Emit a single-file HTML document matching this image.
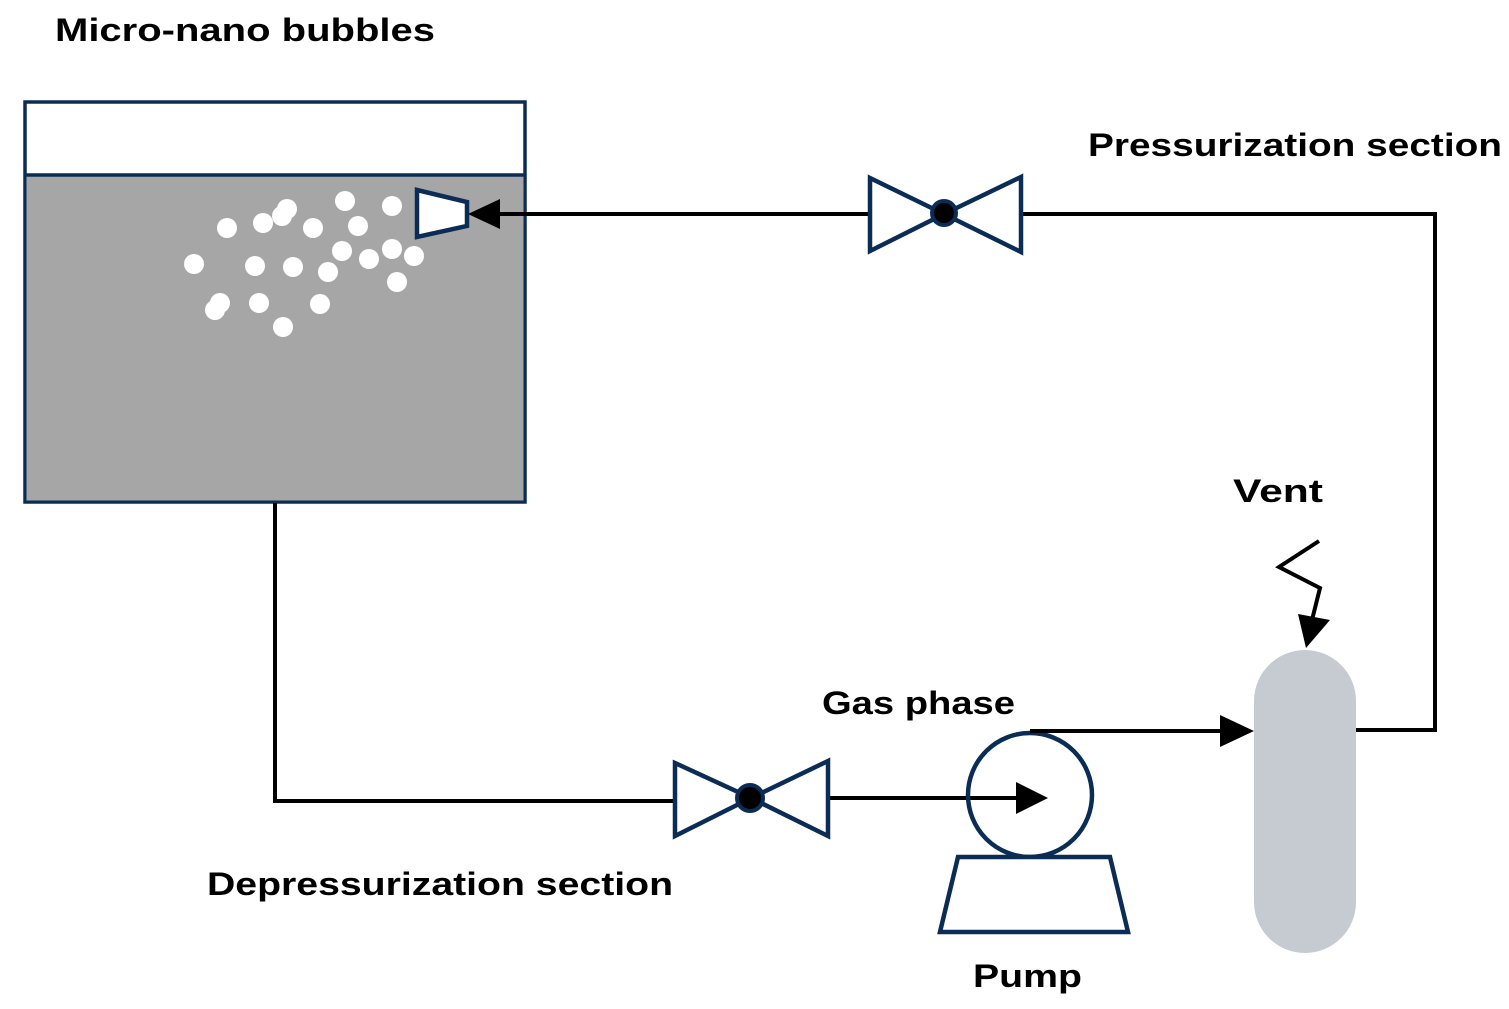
<!DOCTYPE html>
<html><head><meta charset="utf-8"><style>
html,body{margin:0;padding:0;background:#fff;}
svg{display:block;}
text{font-family:"Liberation Sans",sans-serif;font-weight:bold;font-size:32px;fill:#000;}
</style></head><body>
<svg width="1509" height="1009" viewBox="0 0 1509 1009" xmlns="http://www.w3.org/2000/svg">
<!-- tank -->
<rect x="25" y="102" width="500" height="400" fill="#fff" stroke="#0b2d55" stroke-width="3.5"/>
<rect x="26.5" y="175" width="497" height="325.5" fill="#a6a6a6"/>
<line x1="25" y1="175" x2="525" y2="175" stroke="#0b2d55" stroke-width="3.5"/>
<g fill="#fff">
<circle cx="227" cy="228" r="10"/><circle cx="263" cy="223" r="10"/><circle cx="282" cy="216" r="10"/><circle cx="287" cy="209" r="10"/>
<circle cx="345" cy="201" r="10"/><circle cx="392" cy="206" r="10"/><circle cx="313" cy="228" r="10"/><circle cx="358" cy="226" r="10"/>
<circle cx="194" cy="264" r="10"/><circle cx="255" cy="266" r="10"/><circle cx="293" cy="267" r="10"/><circle cx="328" cy="272" r="10"/>
<circle cx="342" cy="251" r="10"/><circle cx="369" cy="259" r="10"/><circle cx="392" cy="249" r="10"/><circle cx="414" cy="256" r="10"/>
<circle cx="397" cy="282" r="10"/><circle cx="220" cy="303" r="10"/><circle cx="215" cy="310" r="10"/><circle cx="259" cy="303" r="10"/>
<circle cx="320" cy="304" r="10"/><circle cx="283" cy="327" r="10"/>
</g>
<polygon points="417,190 467,202 467,226 417,237" fill="#fff" stroke="#0b2d55" stroke-width="4.5"/>
<!-- pipes -->
<g stroke="#000" stroke-width="4" fill="none">
<polyline points="1356,730 1435,730 1435,214 1022,214"/>
<line x1="869" y1="214" x2="495" y2="214"/>
<polyline points="275,503 275,801 675,801"/>
<line x1="829" y1="798" x2="1020" y2="798"/>
<line x1="1030" y1="731" x2="1225" y2="731"/>
<polyline points="1319,541 1279,567 1320,588 1312,620"/>
</g>
<g fill="#000">
<polygon points="468,214 500,199 500,229"/>
<polygon points="1048,798 1016,782 1016,814"/>
<polygon points="1254,731 1220,715 1220,747"/>
<polygon points="1306,648 1298,614 1330,620"/>
</g>
<!-- valves -->
<g fill="#fff" stroke="#0b2d55" stroke-width="4.5" stroke-linejoin="miter">
<polygon points="870,178 944,214 870,251"/>
<polygon points="1021,177 944,214 1021,252"/>
<polygon points="675,763 751,798 675,836"/>
<polygon points="828,761 751,798 828,836"/>
</g>
<circle cx="944" cy="213" r="12" fill="#000" stroke="#0b2d55" stroke-width="4"/>
<circle cx="750" cy="798" r="13" fill="#000" stroke="#0b2d55" stroke-width="4"/>
<!-- pump -->
<circle cx="1030" cy="795" r="62" fill="none" stroke="#0b2d55" stroke-width="4.5"/>
<line x1="1030" y1="731" x2="1060" y2="731" stroke="#000" stroke-width="4"/>
<polygon points="958,857 1110,857 1128,932 940,932" fill="#fff" stroke="#0b2d55" stroke-width="4.5"/>
<!-- vessel -->
<rect x="1254" y="650" width="102" height="303" rx="51" ry="51" fill="#c6cad1"/>
<!-- labels -->
<text x="55" y="41" textLength="380" lengthAdjust="spacingAndGlyphs">Micro-nano bubbles</text>
<text x="1088" y="156" textLength="414" lengthAdjust="spacingAndGlyphs">Pressurization section</text>
<text x="1233" y="502" textLength="90" lengthAdjust="spacingAndGlyphs">Vent</text>
<text x="822" y="714" textLength="193" lengthAdjust="spacingAndGlyphs">Gas phase</text>
<text x="207" y="895" textLength="466" lengthAdjust="spacingAndGlyphs">Depressurization section</text>
<text x="973" y="987" textLength="109" lengthAdjust="spacingAndGlyphs">Pump</text>
</svg>
</body></html>
